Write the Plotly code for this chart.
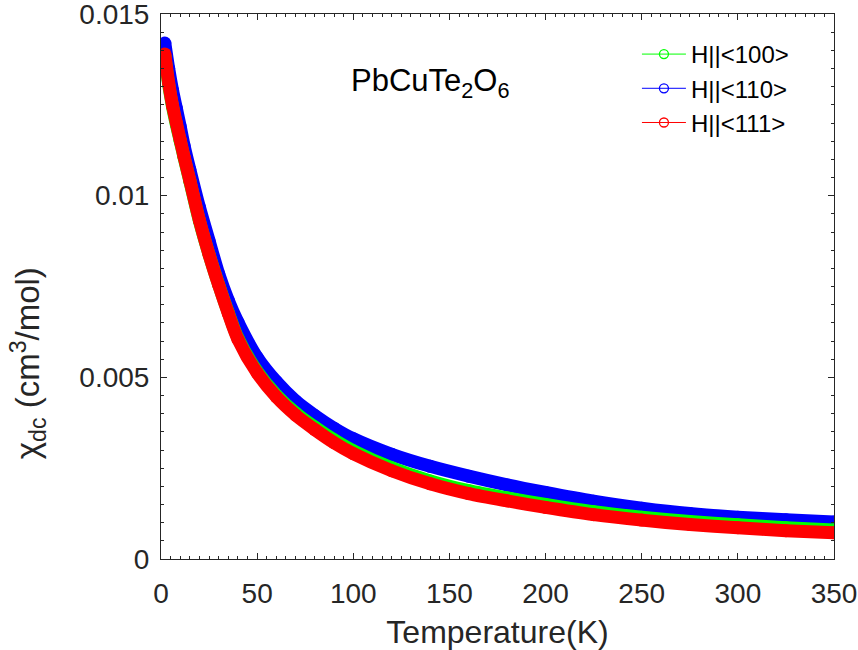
import plotly.graph_objects as go

# Temperature grid (K)
T = [2, 4, 6, 8, 10, 12, 15, 20, 25, 30, 35, 40, 50, 60, 70, 80, 90, 100,
     120, 140, 160, 180, 200, 225, 250, 275, 300, 325, 350]

# chi_dc (cm^3/mol)
chi_100 = [0.01385, 0.01305, 0.01245, 0.01195, 0.0115, 0.01105, 0.0104, 0.0093, 0.00838,
           0.00755, 0.00678, 0.00608, 0.00516, 0.00451, 0.00402, 0.00363, 0.00328, 0.00298,
           0.00251, 0.00215, 0.00188, 0.00168, 0.00150, 0.00130, 0.00115, 0.00103,
           0.00094, 0.00086, 0.00080]
chi_110 = [0.0142, 0.0135, 0.0129, 0.0124, 0.0119, 0.01138, 0.01072, 0.00968, 0.00876,
           0.00785, 0.00712, 0.00652, 0.00555, 0.00488, 0.00435, 0.00395, 0.00360, 0.00331,
           0.00288, 0.00255, 0.00228, 0.00204, 0.00183, 0.00159, 0.00140, 0.00125,
           0.00115, 0.00108, 0.00102]
chi_111 = [0.0139, 0.0131, 0.01248, 0.0120, 0.01153, 0.01107, 0.01042, 0.00932, 0.00838,
           0.00754, 0.00676, 0.00605, 0.00512, 0.00446, 0.00396, 0.00356, 0.00320, 0.00290,
           0.00243, 0.00207, 0.00180, 0.00160, 0.00142, 0.00122, 0.00107, 0.00095,
           0.00086, 0.00078, 0.00072]

names = ["H||<100>", "H||<110>", "H||<111>"]
colors = ["#00FF00", "#0000FF", "#FF0000"]
series = [chi_100, chi_110, chi_111]

fig = go.Figure()
# drawing order: <110> (blue), <100> (green), <111> (red) on top
for i in [1, 0, 2]:
    c = colors[i]
    fig.add_trace(go.Scatter(x=T, y=series[i], mode="lines+markers",
                             line=dict(color=c, width=13, shape="spline", smoothing=0.8),
                             marker=dict(color=c, size=13, line=dict(width=0)),
                             showlegend=False, hoverinfo="skip"))
for n, c in zip(names, colors):
    fig.add_trace(go.Scatter(x=[None], y=[None], mode="lines+markers", name=n,
                             line=dict(color=c, width=1),
                             marker=dict(color=c, size=9, symbol="circle-open",
                                         line=dict(width=1.3, color=c))))

axcol = "#262626"
font_family = "Liberation Sans, Arial, sans-serif"

fig.update_layout(
    width=858, height=650,
    margin=dict(l=161, r=24, t=14, b=91, autoexpand=False),
    paper_bgcolor="white", plot_bgcolor="white",
    font=dict(family=font_family, color=axcol),
    showlegend=True,
    legend=dict(x=0.7072, y=0.967, xanchor="left", yanchor="top",
                bgcolor="rgba(0,0,0,0)", borderwidth=0,
                font=dict(size=24, color="black", family=font_family),
                itemwidth=44),
    annotations=[
        dict(text="PbCuTe<sub>2</sub>O<sub>6</sub>", xref="paper", yref="paper",
             x=0.280, y=0.8735, xanchor="left", yanchor="middle",
             showarrow=False, font=dict(size=31, color="black", family=font_family)),
        dict(text="χ<sub>dc</sub> (cm<sup>3</sup>/mol)", xref="paper", yref="paper",
             x=-0.197, y=0.36, xanchor="center", yanchor="middle", textangle=-90,
             showarrow=False, font=dict(size=33, color=axcol, family=font_family)),
    ],
)

fig.update_xaxes(range=[0, 350], tickvals=[0, 50, 100, 150, 200, 250, 300, 350],
                 ticks="inside", ticklen=6, tickwidth=1, tickcolor=axcol,
                 minor=dict(ticks="inside", ticklen=3, dtick=5, tickcolor=axcol, showgrid=False),
                 showline=True, linecolor=axcol, linewidth=1, mirror="allticks",
                 showgrid=False, zeroline=False, ticklabelstandoff=9, automargin=False,
                 ticklabeloverflow="allow",
                 tickfont=dict(size=28, color=axcol),
                 title=dict(text="Temperature(K)", font=dict(size=32, color=axcol), standoff=14))
fig.update_yaxes(range=[0, 0.0150001], tickvals=[0, 0.005, 0.01, 0.015],
                 ticktext=["0", "0.005", "0.01", "0.015"],
                 ticks="inside", ticklen=6, tickwidth=1, tickcolor=axcol,
                 minor=dict(ticks="inside", ticklen=3, dtick=0.0005, tickcolor=axcol, showgrid=False),
                 showline=True, linecolor=axcol, linewidth=1, mirror="allticks",
                 showgrid=False, zeroline=False, ticklabelstandoff=5, automargin=False,
                 ticklabeloverflow="allow",
                 tickfont=dict(size=28, color=axcol))

fig.write_html("out.html")
